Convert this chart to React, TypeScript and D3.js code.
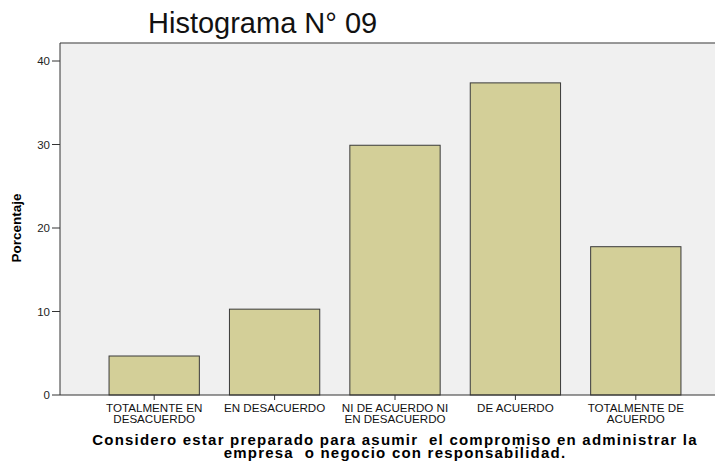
import React from "react";
import * as d3 from "d3";

const categories = [
  ["TOTALMENTE EN", "DESACUERDO"],
  ["EN DESACUERDO"],
  ["NI DE ACUERDO NI", "EN DESACUERDO"],
  ["DE ACUERDO"],
  ["TOTALMENTE DE", "ACUERDO"],
];
const values = [4.67, 10.28, 29.91, 37.38, 17.76];
const yTicks = [0, 10, 20, 30, 40];
const title = "Histograma N° 09";
const yLabel = "Porcentaje";
const xTitle = [
  "Considero estar preparado para asumir  el compromiso en administrar la",
  "empresa  o negocio con responsabilidad.",
];

const W = 715;
const H = 463;
const plotLeft = 60;
const plotRight = 715;
const plotTop = 43;
const plotBottom = 395;
const FONT = "'Liberation Sans', Arial, sans-serif";
const NARROW = "'Liberation Sans Narrow', 'Arial Narrow', 'Liberation Sans', Arial, sans-serif";

export default function App() {
  const x = d3
    .scaleBand<number>()
    .domain(d3.range(values.length))
    .range([94, 696])
    .paddingInner(0.25)
    .paddingOuter(0.125);
  const y = d3.scaleLinear().domain([0, 40]).range([plotBottom, 61]);

  return (
    <svg
      width={W}
      height={H}
      style={{ position: "absolute", left: 0, top: 0, background: "#fff" }}
    >
      <rect x={0} y={0} width={W} height={H} fill="#fff" />
      <text x={148} y={33} fontFamily={FONT} fontSize={29} fill="#111">
        {title}
      </text>
      <rect
        x={plotLeft}
        y={plotTop}
        width={plotRight - plotLeft}
        height={plotBottom - plotTop}
        fill="#F0F0F0"
      />
      <line x1={plotLeft} x2={plotRight} y1={plotTop} y2={plotTop} stroke="#777" strokeWidth={1.5} />
      {values.map((v, i) => (
        <rect
          key={i}
          x={x(i)}
          y={y(v)}
          width={x.bandwidth()}
          height={plotBottom - y(v)}
          fill="#D3CF98"
          stroke="#3a3a3a"
          strokeWidth={1}
        />
      ))}
      <line x1={plotLeft} x2={plotLeft} y1={plotTop} y2={plotBottom} stroke="#333" strokeWidth={1} />
      <line x1={plotLeft} x2={plotRight} y1={plotBottom} y2={plotBottom} stroke="#333" strokeWidth={1} />
      {yTicks.map((t) => (
        <g key={t}>
          <line x1={52} x2={plotLeft} y1={y(t)} y2={y(t)} stroke="#333" strokeWidth={1} />
          <text
            x={50}
            y={y(t) + 4}
            textAnchor="end"
            fontFamily={FONT}
            fontSize={11.5}
            fill="#222"
          >
            {t}
          </text>
        </g>
      ))}
      {categories.map((lines, i) => {
        const cx = (x(i) as number) + x.bandwidth() / 2;
        return (
          <g key={i}>
            <line x1={cx} x2={cx} y1={plotBottom} y2={plotBottom + 5} stroke="#333" strokeWidth={1} />
            {lines.map((l, j) => (
              <text
                key={j}
                x={cx}
                y={412 + j * 10.5}
                textAnchor="middle"
                fontFamily={FONT}
                fontSize={11.6}
                fill="#111"
              >
                {l}
              </text>
            ))}
          </g>
        );
      })}
      <text
        transform={`translate(21, 228) rotate(-90)`}
        textAnchor="middle"
        fontFamily={NARROW}
        fontWeight="bold"
        fontSize={13.5}
        fill="#000"
      >
        {yLabel}
      </text>
      {xTitle.map((l, j) => (
        <text
          key={j}
          x={395}
          y={445 + j * 13}
          textAnchor="middle"
          fontFamily={FONT}
          fontWeight="bold"
          fontSize={15}
          letterSpacing={1.22}
          fill="#000"
          style={{ whiteSpace: "pre" }}
        >
          {l}
        </text>
      ))}
    </svg>
  );
}
